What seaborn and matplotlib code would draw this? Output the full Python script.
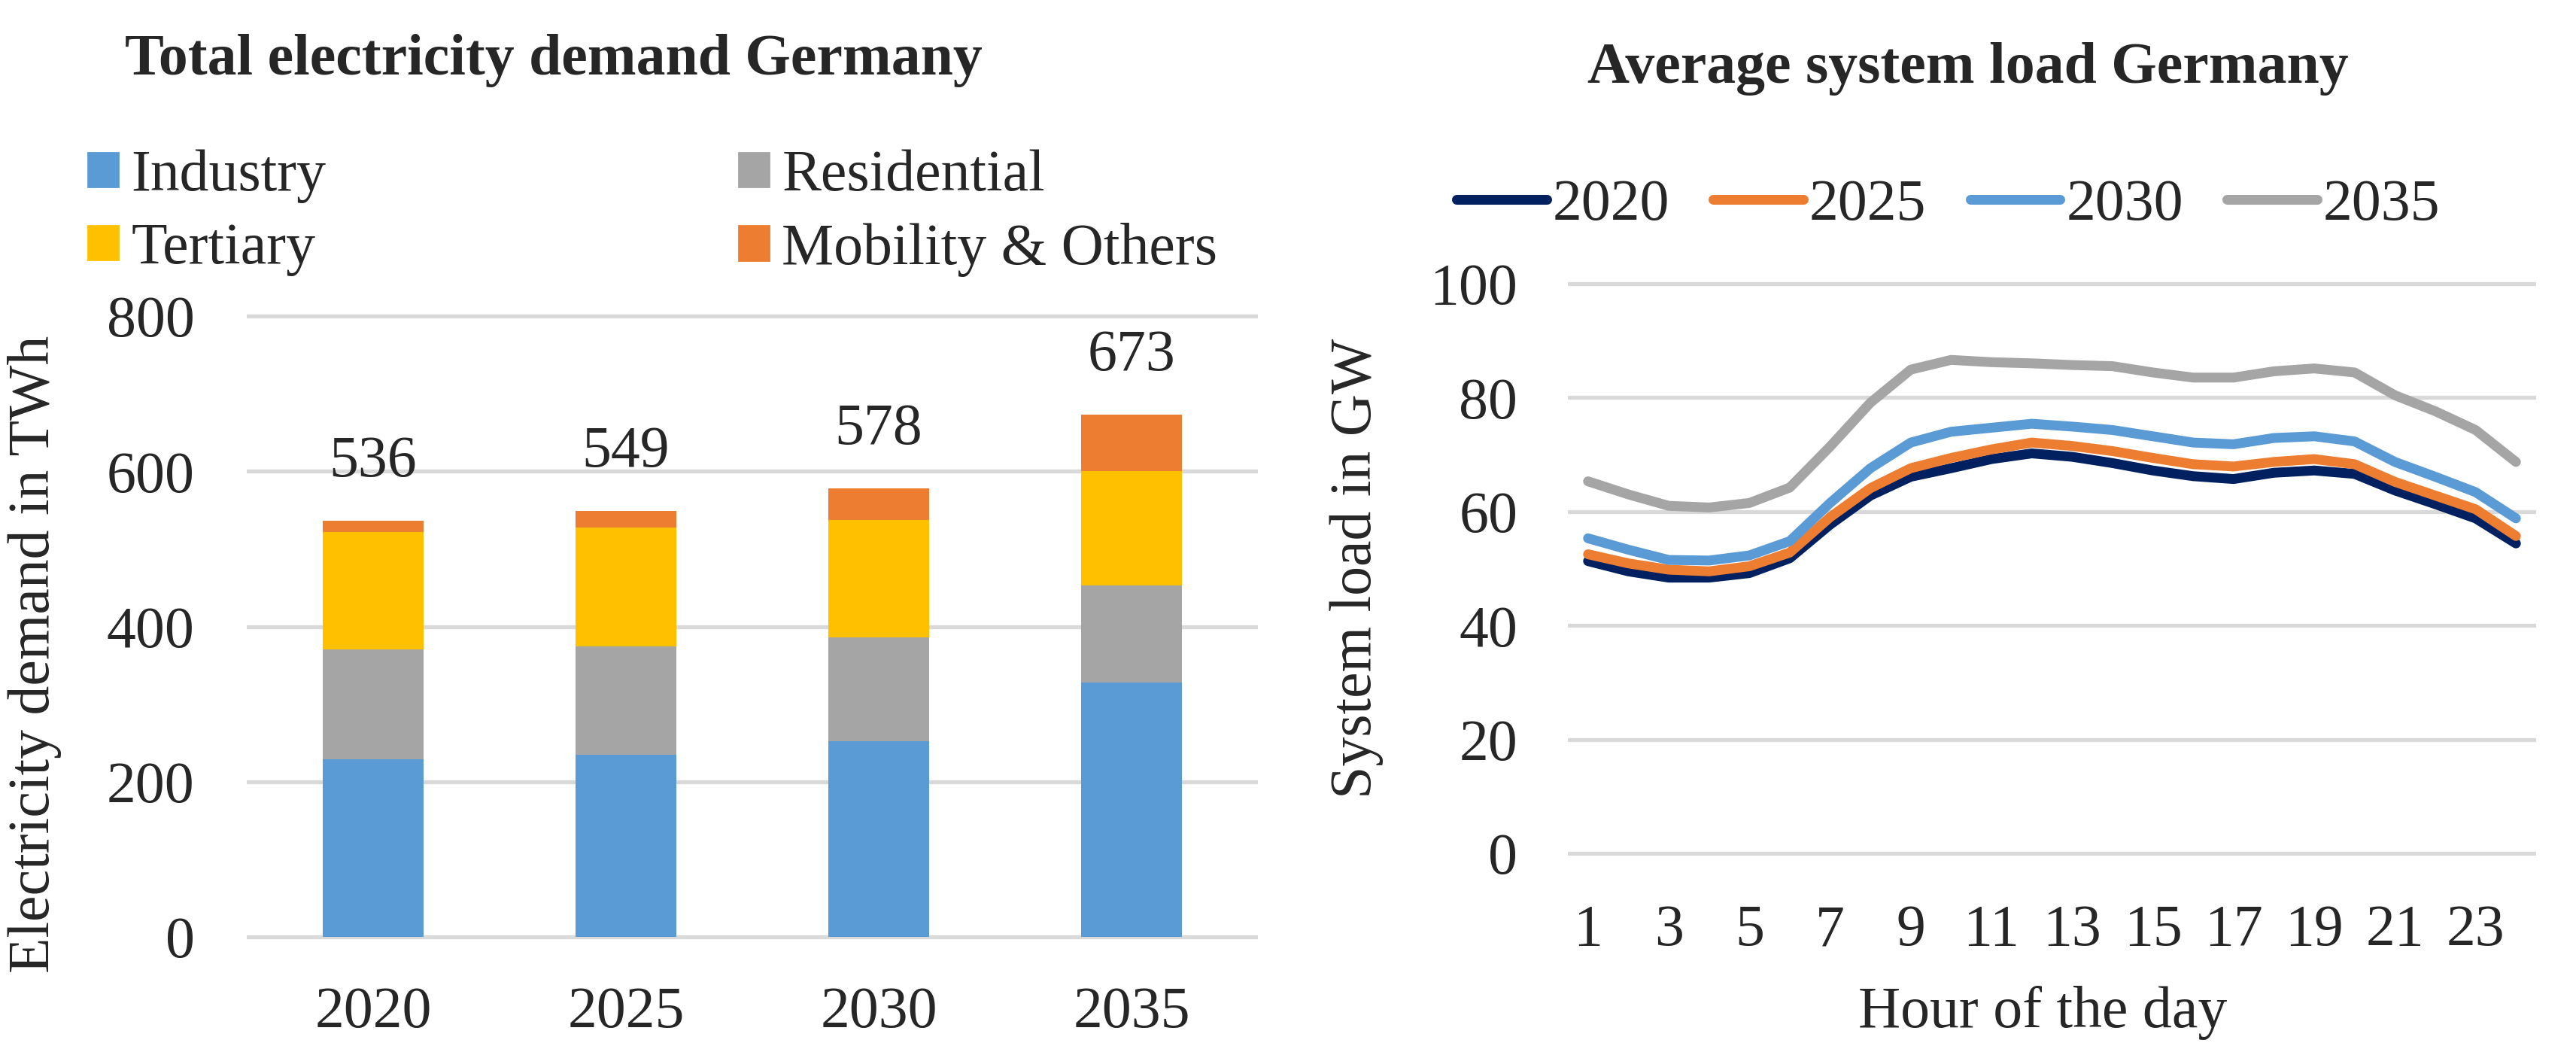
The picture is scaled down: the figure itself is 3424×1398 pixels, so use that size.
import matplotlib
matplotlib.use("Agg")
import matplotlib.pyplot as plt
from matplotlib.patches import Patch
from matplotlib.lines import Line2D
import seaborn as sns
import pandas as pd

# ---- data: electricity demand by sector (TWh) ----
years = ["2020", "2025", "2030", "2035"]
industry = [229, 235, 252, 328]
residential = [141, 139, 134, 125]
tertiary = [152, 154, 151, 147]
mobility = [14, 21, 41, 73]
sectors = ["Industry", "Residential", "Tertiary", "Mobility & Others"]
sector_colors = ["#5B9BD5", "#A5A5A5", "#FFC000", "#ED7D31"]

# ---- data: average hourly system load (GW) ----
hours = list(range(1, 25))
load_2020 = [51.3, 49.5, 48.4, 48.4, 49.2, 51.8, 57.7, 62.8, 66.1, 67.6, 69.2, 70.2,
             69.6, 68.5, 67.2, 66.2, 65.7, 66.8, 67.2, 66.6, 63.7, 61.3, 58.8, 54.4]
load_2025 = [52.5, 50.9, 49.8, 49.5, 50.4, 52.8, 59.0, 64.1, 67.6, 69.4, 70.9, 72.1,
             71.5, 70.6, 69.4, 68.3, 67.9, 68.7, 69.2, 68.3, 65.2, 62.8, 60.4, 55.7]
load_2030 = [55.3, 53.3, 51.5, 51.4, 52.3, 54.8, 61.5, 67.6, 72.1, 74.0, 74.7, 75.4,
             74.9, 74.3, 73.2, 72.1, 71.8, 72.9, 73.2, 72.3, 68.7, 66.1, 63.4, 58.8]
load_2035 = [65.3, 63.0, 61.0, 60.7, 61.5, 64.2, 71.4, 79.1, 84.9, 86.6, 86.2, 86.0,
             85.7, 85.5, 84.4, 83.5, 83.5, 84.6, 85.1, 84.4, 80.4, 77.6, 74.3, 68.7]
line_colors = ["#002060", "#ED7D31", "#5B9BD5", "#A5A5A5"]

sns.set_theme(style="white")
plt.rcParams["font.family"] = ["Liberation Serif", "DejaVu Serif"]
FS = 28
GRID = "#D9D9D9"

W, H = 3424, 1398
fig = plt.figure(figsize=(W / 200, H / 200), dpi=200)


def px_axes(left, top, right, bottom):
    return fig.add_axes([left / W, (H - bottom) / H, (right - left) / W, (bottom - top) / H])


# ---------------- left: stacked bars ----------------
ax1 = px_axes(328, 416, 1672, 1249)
df_bar = pd.DataFrame({"year": years, "Industry": industry, "Residential": residential,
                       "Tertiary": tertiary, "Mobility & Others": mobility})
# draw cumulative heights from tallest to shortest so each layer sits on top
for i in range(len(sectors) - 1, -1, -1):
    cum = df_bar[sectors[: i + 1]].sum(axis=1)
    sns.barplot(x=df_bar["year"], y=cum, color=sector_colors[i], width=0.4,
                saturation=1, linewidth=0, ax=ax1, zorder=2)

totals = df_bar[sectors].sum(axis=1)
for i, t in enumerate(totals):
    ax1.annotate(f"{t}", (i, t), xytext=(0, 28), textcoords="offset points",
                 ha="center", va="center", fontsize=FS)

ax1.set_ylim(-4, 804)
ax1.set_xlim(-0.5, 3.5)
ax1.set_yticks([0, 200, 400, 600, 800])
ax1.yaxis.grid(True, color=GRID, linewidth=1.9)
ax1.set_axisbelow(True)
for s in ax1.spines.values():
    s.set_visible(False)
ax1.tick_params(axis="both", length=0, labelsize=FS)
ax1.tick_params(axis="y", pad=25)
ax1.tick_params(axis="x", pad=22)
ax1.set_xlabel("")
ax1.set_ylabel("Electricity demand in TWh", fontsize=FS)
ax1.yaxis.set_label_coords(-0.183, 0.456)

handles = [Patch(color=c) for c in sector_colors]
order = [0, 2, 1, 3]
ax1.legend([handles[k] for k in order], [sectors[k] for k in order], ncol=2,
           loc="center left", bbox_to_anchor=(117 / W, (H - 283) / H),
           bbox_transform=fig.transFigure, frameon=False, fontsize=FS,
           handlelength=0.52, handleheight=0.52, handletextpad=0.22,
           columnspacing=7.05, labelspacing=0.33, borderpad=0, borderaxespad=0)

fig.text(736 / W, (H - 99) / H, "Total electricity demand Germany", ha="center",
         va="baseline", fontsize=FS, fontweight="bold")

# ---------------- right: load profiles ----------------
ax2 = px_axes(2084, 373, 3371, 1138)
df_line = pd.DataFrame({"hour": hours * 4,
                        "load": load_2020 + load_2025 + load_2030 + load_2035,
                        "year": sum([[y] * 24 for y in years], [])})
sns.lineplot(data=df_line, x="hour", y="load", hue="year", palette=line_colors,
             linewidth=4.7, solid_capstyle="round", legend=False, ax=ax2, zorder=3)

ax2.set_ylim(-0.5, 100.5)
ax2.set_xlim(0.5, 24.5)
ax2.set_yticks([0, 20, 40, 60, 80, 100])
ax2.set_xticks(list(range(1, 24, 2)))
ax2.yaxis.grid(True, color=GRID, linewidth=1.9)
ax2.xaxis.grid(False)
ax2.set_axisbelow(True)
for s in ax2.spines.values():
    s.set_visible(False)
ax2.tick_params(axis="both", length=0, labelsize=FS)
ax2.tick_params(axis="y", pad=24)
ax2.tick_params(axis="x", pad=23)
ax2.set_ylabel("System load in GW", fontsize=FS)
ax2.yaxis.set_label_coords(-0.19, 0.5)
ax2.set_xlabel("Hour of the day", fontsize=FS)
ax2.xaxis.set_label_coords(0.49, -0.225)

line_handles = [Line2D([0], [0], color=c, linewidth=4.7, solid_capstyle="round")
                for c in line_colors]
ax2.legend(line_handles, years, ncol=4, loc="center left",
           bbox_to_anchor=(1936 / W, (H - 273) / H), bbox_transform=fig.transFigure,
           frameon=False, fontsize=FS, handlelength=1.54, handletextpad=0.1,
           columnspacing=0.75, borderpad=0, borderaxespad=0)

fig.text(2616 / W, (H - 110) / H, "Average system load Germany", ha="center",
         va="baseline", fontsize=FS, fontweight="bold")

fig.savefig("out.png", dpi=200, facecolor="white")
